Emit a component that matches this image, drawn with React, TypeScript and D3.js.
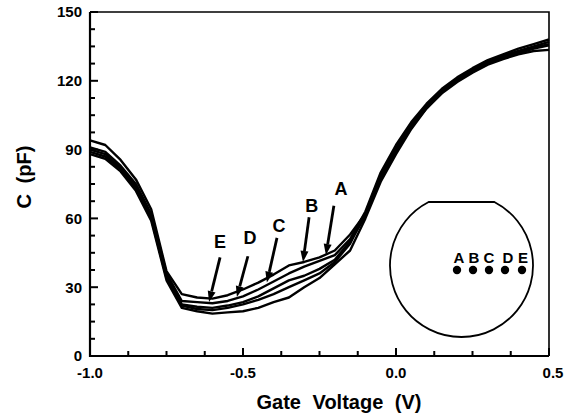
import React from "react";
import * as d3 from "d3";

// gate voltage (V) sampled along the sweep
const voltage = [
  -1.0, -0.95, -0.9, -0.85, -0.8, -0.75, -0.7, -0.65, -0.6, -0.55, -0.5, -0.45,
  -0.4, -0.35, -0.3, -0.25, -0.2, -0.15, -0.1, -0.05, 0.0, 0.05, 0.1, 0.15, 0.2,
  0.25, 0.3, 0.35, 0.4, 0.45, 0.5,
];

// capacitance (pF) for sites A..E
const capA = [
  94, 92, 85.5, 77, 64, 37, 27, 25.5, 25, 26.5, 29, 32, 35.5, 39.5, 41, 43, 46,
  53, 62, 78, 90, 101, 109, 115.5, 120.5, 124.5, 128, 130.5, 132.5, 134.5, 136,
];
const capB = [
  91, 89, 83, 75, 62, 36, 24, 23.5, 23, 24, 26, 29, 32.5, 36, 39, 41.5, 44, 51,
  63, 80, 92, 102, 110, 116.5, 121.5, 125.5, 129, 131.5, 134, 136, 138,
];
const capC = [
  90, 88, 82, 74, 61, 35, 22.5, 21.5, 21, 22, 23.5, 26, 29.5, 33, 35, 38, 42, 50,
  61, 77, 89, 100, 108, 115, 120, 124, 127.5, 130, 132, 134, 135.5,
];
const capD = [
  89, 87, 81.5, 73, 60, 34, 22, 20.5, 20, 21, 22.5, 24.5, 27, 30, 33, 36, 41, 49,
  62, 79, 91, 101, 109, 116, 121, 125, 128.5, 131, 133, 135, 137,
];
const capE = [
  88, 86, 80.5, 72, 59, 33, 21, 19.5, 18.5, 19, 19.5, 21, 23.5, 25.5, 30, 34, 40,
  46, 60, 76, 88, 99, 108, 114.5, 119.5, 123.5, 127, 129.5, 131.5, 133, 133.5,
];

// arrow annotations (label, label pos, tail, tip) in data units
const arrowLabels = ["A", "B", "C", "D", "E"];
const labelV = [-0.18, -0.275, -0.382, -0.477, -0.575];
const labelC = [73, 65.5, 57, 51.5, 50];
const tailV = [-0.203, -0.284, -0.389, -0.484, -0.575];
const tailC = [65.5, 60.5, 51.5, 43.5, 43];
const tipV = [-0.229, -0.304, -0.422, -0.52, -0.611];
const tipC = [44, 41, 32, 25.7, 23.5];

const xMajor = [-1.0, -0.5, 0.0, 0.5];
const xTickLabels = ["-1.0", "-0.5", "0.0", "0.5"];
const yMajor = [0, 30, 60, 90, 120, 150];

const W = 567;
const H = 419;
const left = 90;
const right = 549;
const top = 12;
const bottom = 356;
const font = "Arial, 'Liberation Sans', Helvetica, sans-serif";

export default function App() {
  const x = d3.scaleLinear().domain([-1, 0.5]).range([left, right]);
  const y = d3.scaleLinear().domain([0, 150]).range([bottom, top]);

  const series = [capA, capB, capC, capD, capE];
  const line = d3
    .line<number>()
    .x((d, i) => x(voltage[i]))
    .y((d) => y(d));

  const xMinor = d3.range(-1, 0.5001, 0.125);
  const yMinor = d3.range(0, 150.001, 7.5);

  // wafer inset
  const cx = 461.5;
  const cy = 265.5;
  const r = 71.5;
  const flatY = 202;
  const half = Math.sqrt(r * r - (cy - flatY) ** 2);
  const a0 = Math.atan2(flatY - cy, half);
  const a1 = Math.atan2(flatY - cy, -half);
  const arcPath = d3.path();
  arcPath.moveTo(cx - half, flatY);
  arcPath.lineTo(cx + half, flatY);
  arcPath.arc(cx, cy, r, a0, a1 + 2 * Math.PI, false);
  arcPath.closePath();
  const dotX = [457, 473, 489, 505, 522];
  const dotLabelX = [459, 474, 489, 508, 523];

  return (
    <svg
      width={W}
      height={H}
      style={{ position: "absolute", left: 0, top: 0, background: "#fff" }}
      fontFamily={font}
    >
      {/* frame top and right */}
      <path
        d={`M${left},${top}H${right}V${bottom}`}
        fill="none"
        stroke="#000"
        strokeWidth={1.6}
      />
      {/* axes */}
      <path
        d={`M${left},${top}V${bottom}H${right}`}
        fill="none"
        stroke="#000"
        strokeWidth={2.2}
      />
      {yMinor.map((t) => (
        <line
          key={"ym" + t}
          x1={left}
          x2={left + (t % 30 === 0 ? 8 : 5)}
          y1={y(t)}
          y2={y(t)}
          stroke="#000"
          strokeWidth={2}
        />
      ))}
      {xMinor.map((t) => (
        <line
          key={"xm" + t}
          x1={x(t)}
          x2={x(t)}
          y1={bottom}
          y2={bottom - (Math.abs(t * 2 - Math.round(t * 2)) < 1e-6 ? 8 : 5)}
          stroke="#000"
          strokeWidth={2}
        />
      ))}
      {yMajor.map((t) => (
        <text
          key={"yl" + t}
          x={left - 8}
          y={y(t)}
          dy="0.36em"
          textAnchor="end"
          fontSize={15}
          fontWeight="bold"
        >
          {t}
        </text>
      ))}
      {xMajor.map((t, i) => (
        <text
          key={"xl" + t}
          x={x(t) + (i === xMajor.length - 1 ? 4 : 0)}
          y={bottom + 22}
          textAnchor="middle"
          fontSize={15}
          fontWeight="bold"
        >
          {xTickLabels[i]}
        </text>
      ))}
      <text
        x={339}
        y={409}
        textAnchor="middle"
        fontSize={20}
        fontWeight="bold"
        wordSpacing={6}
      >
        Gate Voltage (V)
      </text>
      <text
        transform={`translate(31,177) rotate(-90)`}
        textAnchor="middle"
        fontSize={20}
        fontWeight="bold"
        wordSpacing={5}
      >
        C (pF)
      </text>

      {/* curves */}
      {series.map((s, i) => (
        <path
          key={"c" + i}
          d={line(s) || ""}
          fill="none"
          stroke="#000"
          strokeWidth={2.4}
          strokeLinejoin="round"
        />
      ))}

      {/* arrows */}
      {arrowLabels.map((lab, i) => {
        const x0 = x(tailV[i]);
        const y0 = y(tailC[i]);
        const x1 = x(tipV[i]);
        const y1 = y(tipC[i]);
        const ang = Math.atan2(y1 - y0, x1 - x0);
        const L = 11;
        const w = 4;
        const bx = x1 - L * Math.cos(ang);
        const by = y1 - L * Math.sin(ang);
        const px = -Math.sin(ang) * w;
        const py = Math.cos(ang) * w;
        return (
          <g key={"a" + lab}>
            <line
              x1={x0}
              y1={y0}
              x2={bx}
              y2={by}
              stroke="#000"
              strokeWidth={2.8}
            />
            <path
              d={`M${x1},${y1}L${bx + px},${by + py}L${bx - px},${by - py}Z`}
              fill="#000"
            />
            <text
              x={x(labelV[i])}
              y={y(labelC[i])}
              dy="0.36em"
              textAnchor="middle"
              fontSize={18}
              fontWeight="bold"
            >
              {lab}
            </text>
          </g>
        );
      })}

      {/* wafer inset */}
      <path
        d={arcPath.toString()}
        fill="none"
        stroke="#000"
        strokeWidth={1.8}
      />
      {arrowLabels.map((lab, i) => (
        <g key={"w" + lab}>
          <circle cx={dotX[i]} cy={270} r={4.2} fill="#000" />
          <text
            x={dotLabelX[i]}
            y={263}
            textAnchor="middle"
            fontSize={15}
            fontWeight="bold"
          >
            {lab}
          </text>
        </g>
      ))}
    </svg>
  );
}
